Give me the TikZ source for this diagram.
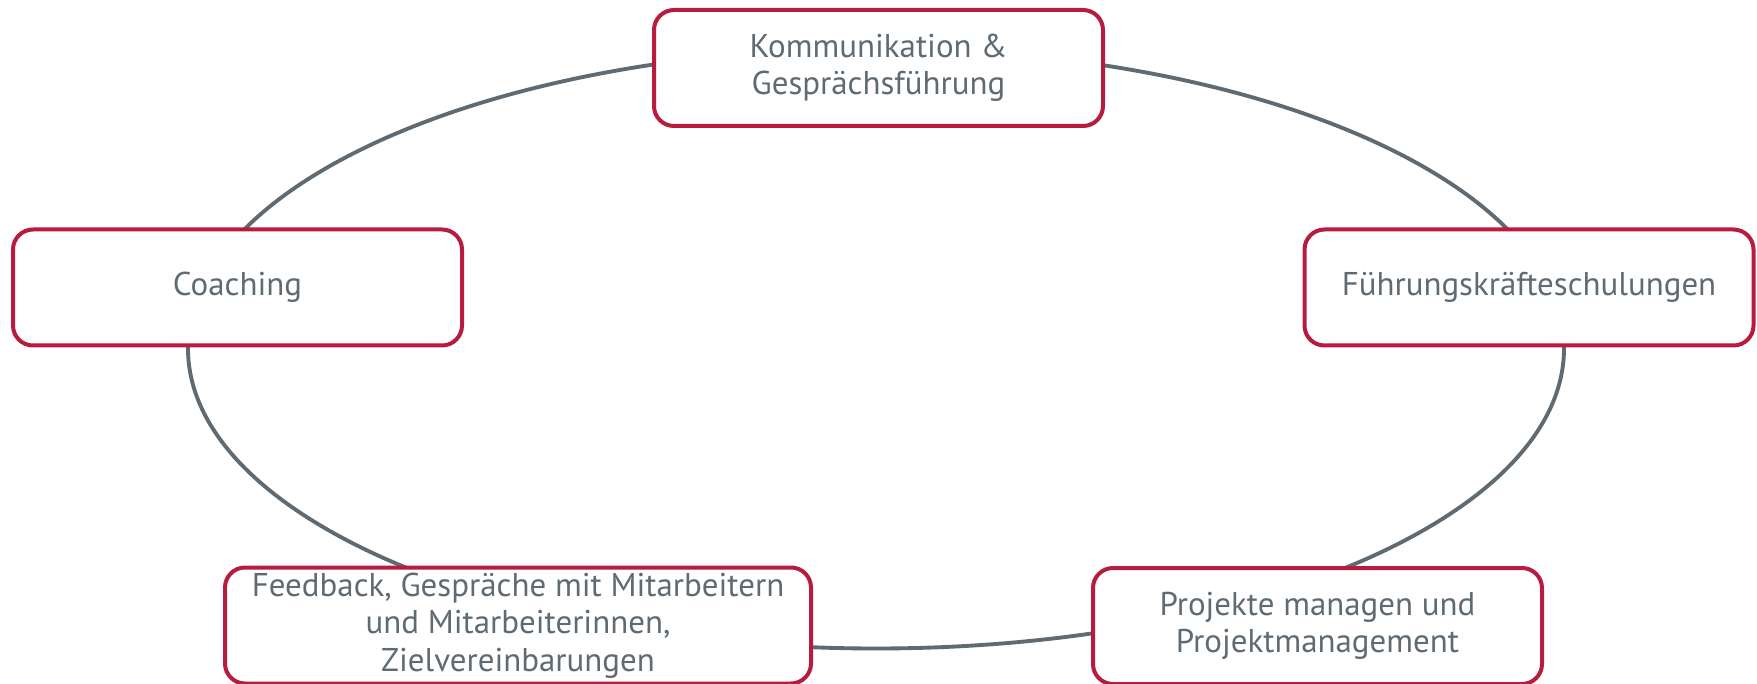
\documentclass[tikz,border=0pt]{standalone}
\usepackage{fontspec}
\setmainfont{PT Sans}
\definecolor{ringgray}{HTML}{5F6A72}
\definecolor{boxred}{HTML}{B71C3F}
\definecolor{textgray}{HTML}{5F6B73}
\tikzset{
  topic/.style={draw=boxred, line width=3pt, fill=white, rounded corners=15pt,
    text=textgray, align=center, inner sep=0pt,
    minimum width=449*0.75pt, minimum height=116*0.75pt,
    font=\fontsize{24.7}{28}\selectfont},
  ring/.style={draw=ringgray, line width=2.9pt}
}
\begin{document}
\begin{tikzpicture}[x=0.75pt, y=-0.75pt]
  \useasboundingbox (0,0) rectangle (1757,684);
  % the ring behind the topics
  \draw[ring] (876,348.5) ellipse (688 and 300);
  \node[topic] (komm) at (878.5,68) {Kommunikation \&\\Gesprächsführung};
  \node[topic] (coach) at (237.5,287.5) {Coaching};
  \node[topic] (fuehr) at (1529,287.5) {Führungskräfteschulungen};
  \node[topic, minimum width=586*0.75pt] (feedback) at (518,625.5)
    {Feedback, Gespräche mit Mitarbeitern\\und Mitarbeiterinnen,\\Zielvereinbarungen};
  \node[topic] (projekt) at (1317.5,626) {Projekte managen und\\Projektmanagement};
\end{tikzpicture}
\end{document}
